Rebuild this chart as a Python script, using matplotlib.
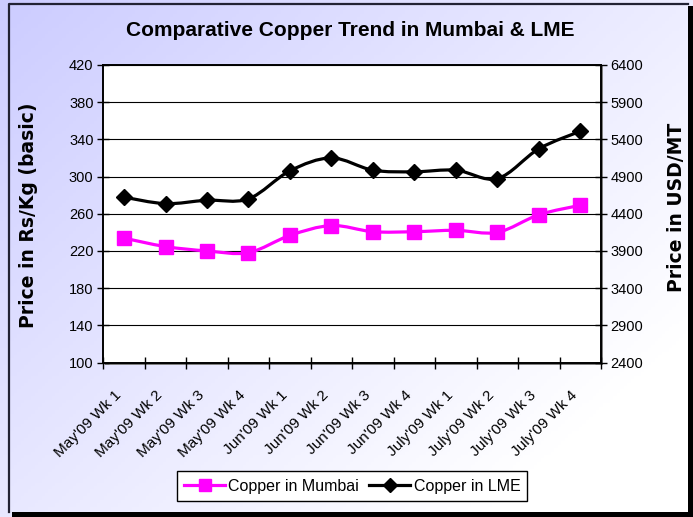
import numpy as np
import matplotlib
matplotlib.use("Agg")
import matplotlib.pyplot as plt
from matplotlib.path import Path
from matplotlib.patches import PathPatch, Rectangle
from matplotlib.lines import Line2D

# --- Data ---
weeks = ["May'09 Wk 1", "May'09 Wk 2", "May'09 Wk 3", "May'09 Wk 4",
         "Jun'09 Wk 1", "Jun'09 Wk 2", "Jun'09 Wk 3", "Jun'09 Wk 4",
         "July'09 Wk 1", "July'09 Wk 2", "July'09 Wk 3", "July'09 Wk 4"]
mumbai = [233.8, 224.7, 220.0, 218.2, 236.7, 247.3, 240.7, 240.7, 242.2, 240.0, 258.9, 269.1]
lme = [4623, 4536, 4582, 4600, 4977, 5150, 4986, 4964, 4986, 4873, 5273, 5509]

left_ticks = [100, 140, 180, 220, 260, 300, 340, 380, 420]
right_ticks = [2400, 2900, 3400, 3900, 4400, 4900, 5400, 5900, 6400]

plt.rcParams['font.family'] = ['Liberation Sans', 'DejaVu Sans']

MAGENTA = "#FF00FF"


# --- Smooth line like Excel (Catmull-Rom as cubic beziers) ---
def smooth_path(x, y):
    x = np.asarray(x, float)
    y = np.asarray(y, float)
    verts = [(x[0], y[0])]
    codes = [Path.MOVETO]
    n = len(x)
    for i in range(n - 1):
        p0 = i - 1 if i > 0 else i
        p3 = i + 2 if i + 2 < n else i + 1
        c1 = (x[i] + (x[i + 1] - x[p0]) / 6, y[i] + (y[i + 1] - y[p0]) / 6)
        c2 = (x[i + 1] - (x[p3] - x[i]) / 6, y[i + 1] - (y[p3] - y[i]) / 6)
        verts += [c1, c2, (x[i + 1], y[i + 1])]
        codes += [Path.CURVE4] * 3
    return Path(verts, codes)


fig = plt.figure(figsize=(6.93, 5.17), dpi=100)

# --- Background gradient + frame ---
bg = fig.add_axes([0, 0, 1, 1], zorder=-10)
bg.set_axis_off()
gx, gy = np.meshgrid(np.linspace(0, 1, 200), np.linspace(0, 1, 150))
t = np.clip((gx * 0.65 + gy * 0.55), 0, 1)
c0 = np.array([204, 204, 255]) / 255
c1 = np.array([255, 255, 255]) / 255
img = c0[None, None, :] * (1 - t[..., None]) + c1[None, None, :] * t[..., None]
bg.imshow(img, extent=[0, 693, 517, 0], aspect='auto')
bg.set_xlim(0, 693)
bg.set_ylim(517, 0)
bg.add_patch(Rectangle((0, 0), 693, 517, facecolor='white', edgecolor='none', zorder=-1))
bg.add_patch(Rectangle((688, 6), 5, 511, facecolor='black', edgecolor='none', zorder=3))
bg.add_patch(Rectangle((12, 512), 681, 5, facecolor='black', edgecolor='none', zorder=3))
bg.plot([9, 9, 688], [512, 3.5, 3.5], color='#222233', lw=1.6, zorder=3)
# plot-area shadow
bg.add_patch(Rectangle((105, 66), 498, 299, facecolor='#808080', edgecolor='none', zorder=2))

# --- Main axes ---
ax = fig.add_axes([103.3 / 693, 1 - 362.5 / 517, (601 - 103.3) / 693, (362.5 - 65) / 517])
ax.set_facecolor('white')
x = np.arange(len(weeks))
ax.set_xlim(-0.5, len(weeks) - 0.5)
ax.set_ylim(100, 420)
ax.set_yticks(left_ticks)
ax.grid(axis='y', color='black', lw=0.8)
ax.set_axisbelow(True)
for s in ax.spines.values():
    s.set_linewidth(1.2)
    s.set_color('black')

ax.set_xticks(np.arange(len(weeks) + 1) - 0.5)
ax.set_xticklabels([])
ax.set_xticks(x - 0.12, minor=True)
ax.set_xticklabels(weeks, minor=True, rotation=45, ha='right', va='center',
                   rotation_mode='anchor', fontsize=11)
ax.tick_params(axis='x', which='major', direction='inout', length=8, width=1)
ax.tick_params(axis='x', which='minor', length=0, pad=22)
ax.tick_params(axis='y', direction='inout', length=8, width=1, labelsize=10.5, pad=3)

ax2 = ax.twinx()
ax2.set_ylim(2400, 6400)
ax2.set_yticks(right_ticks)
ax2.tick_params(axis='y', direction='inout', length=8, width=1, labelsize=10.5, pad=3)
for s in ax2.spines.values():
    s.set_linewidth(1.2)

ax.add_patch(PathPatch(smooth_path(x, mumbai), facecolor='none', edgecolor=MAGENTA, lw=2.3, zorder=3))
ax.plot(x, mumbai, ls='none', marker='s', ms=9.5, color=MAGENTA, zorder=4)
ax2.add_patch(PathPatch(smooth_path(x, lme), facecolor='none', edgecolor='black', lw=2.3, zorder=3))
ax2.plot(x, lme, ls='none', marker='D', ms=8.5, color='black', zorder=4)

# --- Text ---
fig.text(0.505, 1 - 30 / 517, "Comparative Copper Trend in Mumbai & LME", ha='center', va='center',
         fontsize=15, fontweight='bold')
fig.text(28 / 693, 1 - 215 / 517, "Price in Rs/Kg (basic)", rotation=90, ha='center', va='center',
         fontsize=13.5, fontweight='bold', family='DejaVu Sans')
fig.text(677 / 693, 1 - 207 / 517, "Price in USD/MT", rotation=90, ha='center', va='center',
         fontsize=13.5, fontweight='bold', family='DejaVu Sans')

handles = [Line2D([], [], color=MAGENTA, lw=2.3, marker='s', ms=8.5),
           Line2D([], [], color='black', lw=2.3, marker='D', ms=7)]
leg = fig.legend(handles, ["Copper in Mumbai", "Copper in LME"], loc='center',
                 bbox_to_anchor=(352 / 693, 1 - 486 / 517), ncol=2, fontsize=11.5,
                 frameon=True, fancybox=False, edgecolor='black', framealpha=1,
                 handlelength=2.6, handletextpad=0.2, columnspacing=0.6, borderpad=0.45)
leg.get_frame().set_linewidth(1)

fig.savefig("out.png", dpi=100)
